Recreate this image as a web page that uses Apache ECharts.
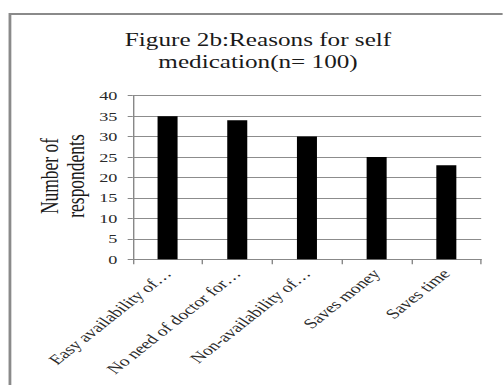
<!DOCTYPE html>
<html>
<head>
<meta charset="utf-8">
<script src="https://cdn.jsdelivr.net/npm/echarts@6/dist/echarts.min.js"></script>
<style>
  html, body { margin: 0; padding: 0; background: #fff; overflow: hidden; }
  #wrap { width: 503px; height: 385px; overflow: hidden; }
  /* chart is laid out narrow and widened horizontally */
  #chart { width: 359.3px; height: 385px; transform: scaleX(1.4); transform-origin: 0 0; }
</style>
</head>
<body>
<div id="wrap"><div id="chart"></div></div>
<script>
const categories = [
  'Easy availability of\u2026',
  'No need of doctor for\u2026',
  'Non-availability of\u2026',
  'Saves money',
  'Saves time'
];
const respondents = [35, 34, 30, 25, 23];
const titleLines = ['Figure 2b:Reasons for self', 'medication(n= 100)'];
const yAxisTitle = ['Number of', 'respondents'];
const yMin = 0, yMax = 40, yStep = 5;

const serif = '"Liberation Serif", "Times New Roman", serif';
const chart = echarts.init(document.getElementById('chart'), null, { renderer: 'svg' });

chart.setOption({
  backgroundColor: '#fff',
  animation: false,
  grid: { left: 94.8, right: 15.3, top: 95.7, bottom: 125.7, containLabel: false },
  graphic: [
    {
      type: 'rect', silent: true,
      shape: { x: 7.1, y: 14, width: 500, height: 500 },
      style: { fill: 'none', stroke: '#8a8a8a', lineWidth: 2 }
    },
    {
      type: 'text', x: 184.3, y: 29,
      style: {
        text: titleLines.join('\n'), fill: '#1a1a1a',
        fontSize: 18, fontFamily: serif, lineHeight: 22,
        align: 'center', verticalAlign: 'top'
      }
    },
    {
      type: 'text', x: 45, y: 176, rotation: Math.PI / 2,
      style: {
        text: yAxisTitle.join('\n'), fill: '#1a1a1a',
        fontSize: 17.5, fontFamily: serif, lineHeight: 18,
        align: 'center', verticalAlign: 'middle'
      }
    }
  ],
  xAxis: {
    type: 'category',
    data: categories,
    axisLine: { show: true, lineStyle: { color: '#888', width: 1 } },
    axisTick: { show: true, alignWithLabel: false, length: 5, lineStyle: { color: '#888' } },
    axisLabel: {
      interval: 0, rotate: 48, margin: 12,
      color: '#2a2a2a', fontSize: 14, fontFamily: serif
    },
    splitLine: { show: false }
  },
  yAxis: {
    type: 'value',
    min: yMin, max: yMax, interval: yStep,
    axisLine: { show: true, lineStyle: { color: '#888', width: 1 } },
    axisTick: { show: true, length: 3.6, lineStyle: { color: '#888' } },
    axisLabel: { margin: 11, color: '#2a2a2a', fontSize: 13, fontFamily: serif },
    splitLine: { show: true, lineStyle: { color: '#8c8c8c', width: 1 } }
  },
  series: [{
    type: 'bar',
    data: respondents,
    barWidth: 14.3,
    itemStyle: { color: '#000' }
  }]
});
</script>
</body>
</html>
